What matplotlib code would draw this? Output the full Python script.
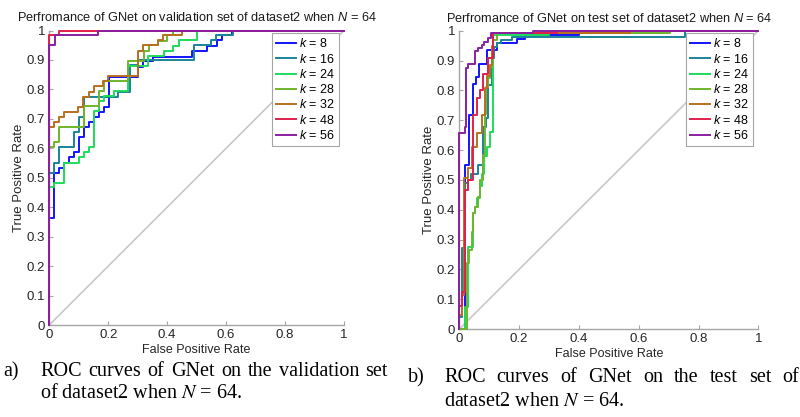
import matplotlib
matplotlib.use("Agg")
import matplotlib.pyplot as plt

plt.rcParams['font.family'] = ['Liberation Sans', 'DejaVu Sans']
plt.rcParams['mathtext.fontset'] = 'custom'
plt.rcParams['mathtext.rm'] = 'Liberation Sans'
plt.rcParams['mathtext.it'] = 'Liberation Sans:italic'

k_labels = ["8", "16", "24", "28", "32", "48", "56"]
colors = ["#1414ff", "#1a8499", "#1edc5a", "#6fb52c", "#b8701c", "#e0204a", "#8b1fa0"]

# validation set ROC step vertices (fpr, tpr), one list per k
val_fpr = [
    [0, 0, 0.017, 0.034, 0.051, 0.068, 0.085, 0.102, 0.119, 0.136, 0.153, 0.169, 0.186, 0.203, 0.302, 0.319, 0.353, 0.483, 0.536, 0.568, 0.585, 0.62, 1],
    [0, 0, 0.017, 0.034, 0.085, 0.102, 0.119, 0.232, 0.274, 0.302, 0.49, 0.55, 0.565, 0.625, 1],
    [0, 0, 0.017, 0.051, 0.1, 0.119, 0.136, 0.153, 0.169, 0.186, 0.22, 0.268, 0.336, 0.39, 0.42, 0.44, 0.5, 1],
    [0, 0, 0.017, 0.034, 0.119, 0.169, 0.186, 0.268, 0.32, 0.34, 0.37, 0.4, 0.42, 1],
    [0, 0, 0.017, 0.034, 0.051, 0.098, 0.115, 0.134, 0.151, 0.183, 0.2, 0.302, 0.317, 0.369, 0.385, 0.451, 1],
    [0, 0, 0.034, 1],
    [0, 0, 0.019, 0.166, 1],
]
val_tpr = [
    [0, 0.362, 0.517, 0.534, 0.551, 0.569, 0.586, 0.638, 0.672, 0.69, 0.707, 0.724, 0.741, 0.843, 0.877, 0.896, 0.91, 0.93, 0.949, 0.968, 0.985, 1, 1],
    [0, 0.517, 0.551, 0.604, 0.655, 0.707, 0.775, 0.792, 0.883, 0.9, 0.95, 0.967, 0.984, 1, 1],
    [0, 0.467, 0.483, 0.551, 0.569, 0.586, 0.603, 0.727, 0.761, 0.778, 0.795, 0.88, 0.914, 0.93, 0.949, 0.968, 1, 1],
    [0, 0.604, 0.622, 0.673, 0.744, 0.795, 0.83, 0.897, 0.931, 0.95, 0.966, 0.984, 1, 1],
    [0, 0.672, 0.689, 0.707, 0.724, 0.741, 0.775, 0.792, 0.81, 0.829, 0.846, 0.931, 0.95, 0.968, 0.985, 1, 1],
    [0, 0.985, 1, 1],
    [0, 0.951, 0.985, 1, 1],
]

# test set ROC step vertices
test_fpr = [
    [0, 0.019, 0.019, 0.033, 0.047, 0.056, 0.067, 0.092, 0.125, 0.192, 0.22, 0.4, 1],
    [0, 0, 0.008, 0.019, 0.03, 0.04, 0.063, 0.08, 0.089, 0.097, 0.108, 0.117, 0.125, 0.14, 0.175, 0.755, 1],
    [0, 0.019, 0.03, 0.045, 0.052, 0.06, 0.069, 0.075, 0.083, 0.094, 0.103, 0.114, 0.3, 1],
    [0, 0.025, 0.032, 0.041, 0.047, 0.052, 0.061, 0.069, 0.08, 0.086, 0.089, 0.097, 0.103, 0.108, 0.114, 0.125, 0.705, 1],
    [0, 0, 0.008, 0.017, 0.03, 0.041, 0.058, 0.075, 0.086, 0.094, 0.103, 0.11, 0.114, 0.571, 1],
    [0, 0, 0.008, 0.019, 0.03, 0.047, 0.058, 0.069, 0.08, 0.095, 0.114, 0.326, 1],
    [0, 0, 0.019, 0.022, 0.03, 0.052, 0.064, 0.075, 0.083, 0.097, 0.105, 0.248, 1],
]
test_tpr = [
    [0, 0.025, 0.55, 0.717, 0.82, 0.846, 0.89, 0.935, 0.958, 0.971, 0.986, 1, 1],
    [0, 0.04, 0.27, 0.49, 0.5, 0.52, 0.55, 0.678, 0.706, 0.818, 0.907, 0.946, 0.96, 0.968, 0.98, 1, 1],
    [0, 0.075, 0.276, 0.388, 0.41, 0.438, 0.48, 0.52, 0.58, 0.611, 0.661, 0.986, 1, 1],
    [0, 0.22, 0.265, 0.326, 0.388, 0.41, 0.444, 0.5, 0.583, 0.72, 0.812, 0.84, 0.879, 0.946, 0.97, 0.991, 1, 1],
    [0, 0.047, 0.114, 0.505, 0.539, 0.611, 0.656, 0.717, 0.807, 0.848, 0.885, 0.95, 0.991, 1, 1],
    [0, 0.077, 0.125, 0.466, 0.5, 0.717, 0.773, 0.801, 0.855, 0.907, 0.991, 1, 1],
    [0, 0.656, 0.678, 0.874, 0.888, 0.933, 0.941, 0.952, 0.963, 0.974, 0.991, 1, 1],
]

titles = ["Perfromance of GNet on validation set of dataset2 when $N$ = 64",
          "Perfromance of GNet on test set of dataset2 when $N$ = 64"]

fig = plt.figure(figsize=(8, 4.17), dpi=100)
W, H = 800, 417
ax1 = fig.add_axes([49.3 / W, (H - 325) / H, 294.7 / W, 294.5 / H])
ax2 = fig.add_axes([459.3 / W, (H - 329) / H, 299 / W, 298.3 / H])
legend_anchor = [(339 / W, 1 - 33 / H), (753 / W, 1 - 33 / H)]

for i, (ax, fprs, tprs) in enumerate([(ax1, val_fpr, val_tpr), (ax2, test_fpr, test_tpr)]):
    ax.plot([0, 1], [0, 1], color="#c8c8c8", lw=1.2, zorder=1)
    handles = []
    for j in range(len(k_labels)):
        h, = ax.plot(fprs[j], tprs[j], drawstyle="steps-post", color=colors[j],
                     lw=1.4, clip_on=False, zorder=2 + j)
        handles.append(h)
    ax.set_xlim(0, 1)
    ax.set_ylim(0, 1)
    ax.set_xticks([0, 0.2, 0.4, 0.6, 0.8, 1])
    ax.set_xticklabels(["0", "0.2", "0.4", "0.6", "0.8", "1"])
    ax.set_yticks([0, 0.1, 0.2, 0.3, 0.4, 0.5, 0.6, 0.7, 0.8, 0.9, 1])
    ax.set_yticklabels(["0", "0.1", "0.2", "0.3", "0.4", "0.5", "0.6", "0.7", "0.8", "0.9", "1"])
    for s in ["top", "right"]:
        ax.spines[s].set_visible(False)
    for s in ["left", "bottom"]:
        ax.spines[s].set_color("#a6a6a6")
        ax.spines[s].set_linewidth(1.0)
    ax.tick_params(direction="in", length=3, color="#a6a6a6", labelsize=9.5,
                   labelcolor="#262626", pad=3)
    ax.set_xlabel("False Positive Rate", fontsize=9, color="#262626", labelpad=2)
    ax.set_ylabel("True Positive Rate", fontsize=9.5, color="#262626", labelpad=1)
    ax.set_title(titles[i], fontsize=9.2, color="#1a1a1a", pad=6.5)
    leg = ax.legend(handles, ["$k$ = " + k for k in k_labels], loc="upper right",
                    bbox_to_anchor=legend_anchor[i], bbox_transform=fig.transFigure,
                    borderaxespad=0, fontsize=9, handlelength=1.6, handletextpad=0.2,
                    labelspacing=0.18, borderpad=0.35, fancybox=False, framealpha=1)
    leg.get_frame().set_edgecolor("#a6a6a6")
    leg.get_frame().set_linewidth(0.8)
    leg.set_zorder(20)

cap = dict(fontfamily="Liberation Serif", math_fontfamily="stix", fontsize=14.5, color="black")
renderer = fig.canvas.get_renderer()


def justified_line(x0, x1, y, text):
    # spread the words so the line fills x0..x1, like the justified caption
    words = text.split(" ")
    parts = [fig.text(0, 1 - y / H, w, va="center", **cap) for w in words]
    widths = [p.get_window_extent(renderer).width for p in parts]
    gap = (x1 - x0 - sum(widths)) / (len(words) - 1)
    x = x0
    for p, w in zip(parts, widths):
        p.set_x(x / W)
        x += w + gap


fig.text(3 / W, 1 - 372 / H, "a)", va="center", **cap)
justified_line(40, 388, 372, "ROC curves of GNet on the validation set")
fig.text(40 / W, 1 - 394 / H, "of dataset2 when $N$ = 64.", va="center", **cap)
fig.text(408 / W, 1 - 378 / H, "b)", va="center", **cap)
justified_line(444, 799, 378, "ROC curves of GNet on the test set of")
fig.text(444 / W, 1 - 402 / H, "dataset2 when $N$ = 64.", va="center", **cap)

fig.savefig("out.png", dpi=100)
